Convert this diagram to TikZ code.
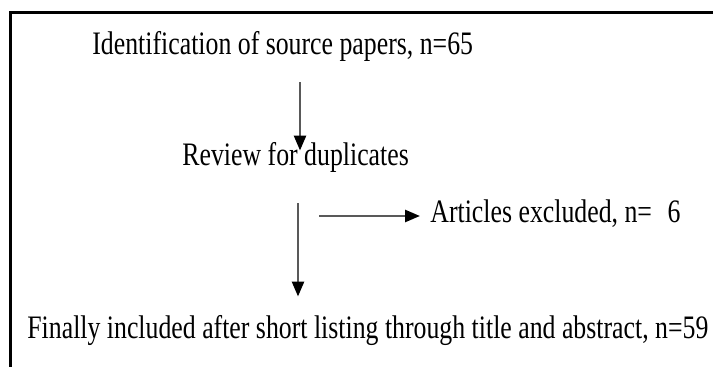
\documentclass[tikz,border=0pt]{standalone}
\usepackage{fontspec}
\usepackage{graphicx}
\setmainfont{Liberation Serif}
\usetikzlibrary{arrows.meta}
\newcommand\tallText[1]{\scalebox{1}[1.27]{#1}}
\begin{document}
\begin{tikzpicture}[
        x=0.5pt, y=-0.5pt,
        txt/.style={anchor=base west, inner sep=0pt, font=\fontsize{12.9}{15}\selectfont},
        flow/.style={draw=black!65, line width=1.3pt, -{Triangle[width=6pt,length=7.5pt,black]}},
        frame/.style={draw=black, line width=1.5pt}
    ]
        \useasboundingbox (0,0) rectangle (715,367);
        \draw[frame] (10,367) -- (10,13) -- (713,13);
        % steps of the selection
        \node[txt] (ident) at (92,55) {\tallText{Identification of source papers, n=65}};
        \node[txt] (review) at (182,166) {\tallText{Review for duplicates}};
        \node[txt] (excluded) at (430,223) {\tallText{Articles excluded, n=\hspace{0.6em}6}};
        \node[txt] (final) at (27,338) {\tallText{Finally included after short listing through title and abstract, n=59}};
        % columns of the arrows
        \coordinate (colA) at (300,0);
        \coordinate (colB) at (298,0);
        \coordinate (split) at (319,216);
        \draw[flow] ([yshift=-10pt]ident.south -| colA) -- ([yshift=-4pt]review.north -| colA);
        \draw[flow] ([yshift=-15pt]review.south -| colB) -- ([yshift=9pt]final.north -| colB);
        \draw[flow] (split) -- ([xshift=-5pt]excluded.west |- split);
    \end{tikzpicture}
\end{document}
